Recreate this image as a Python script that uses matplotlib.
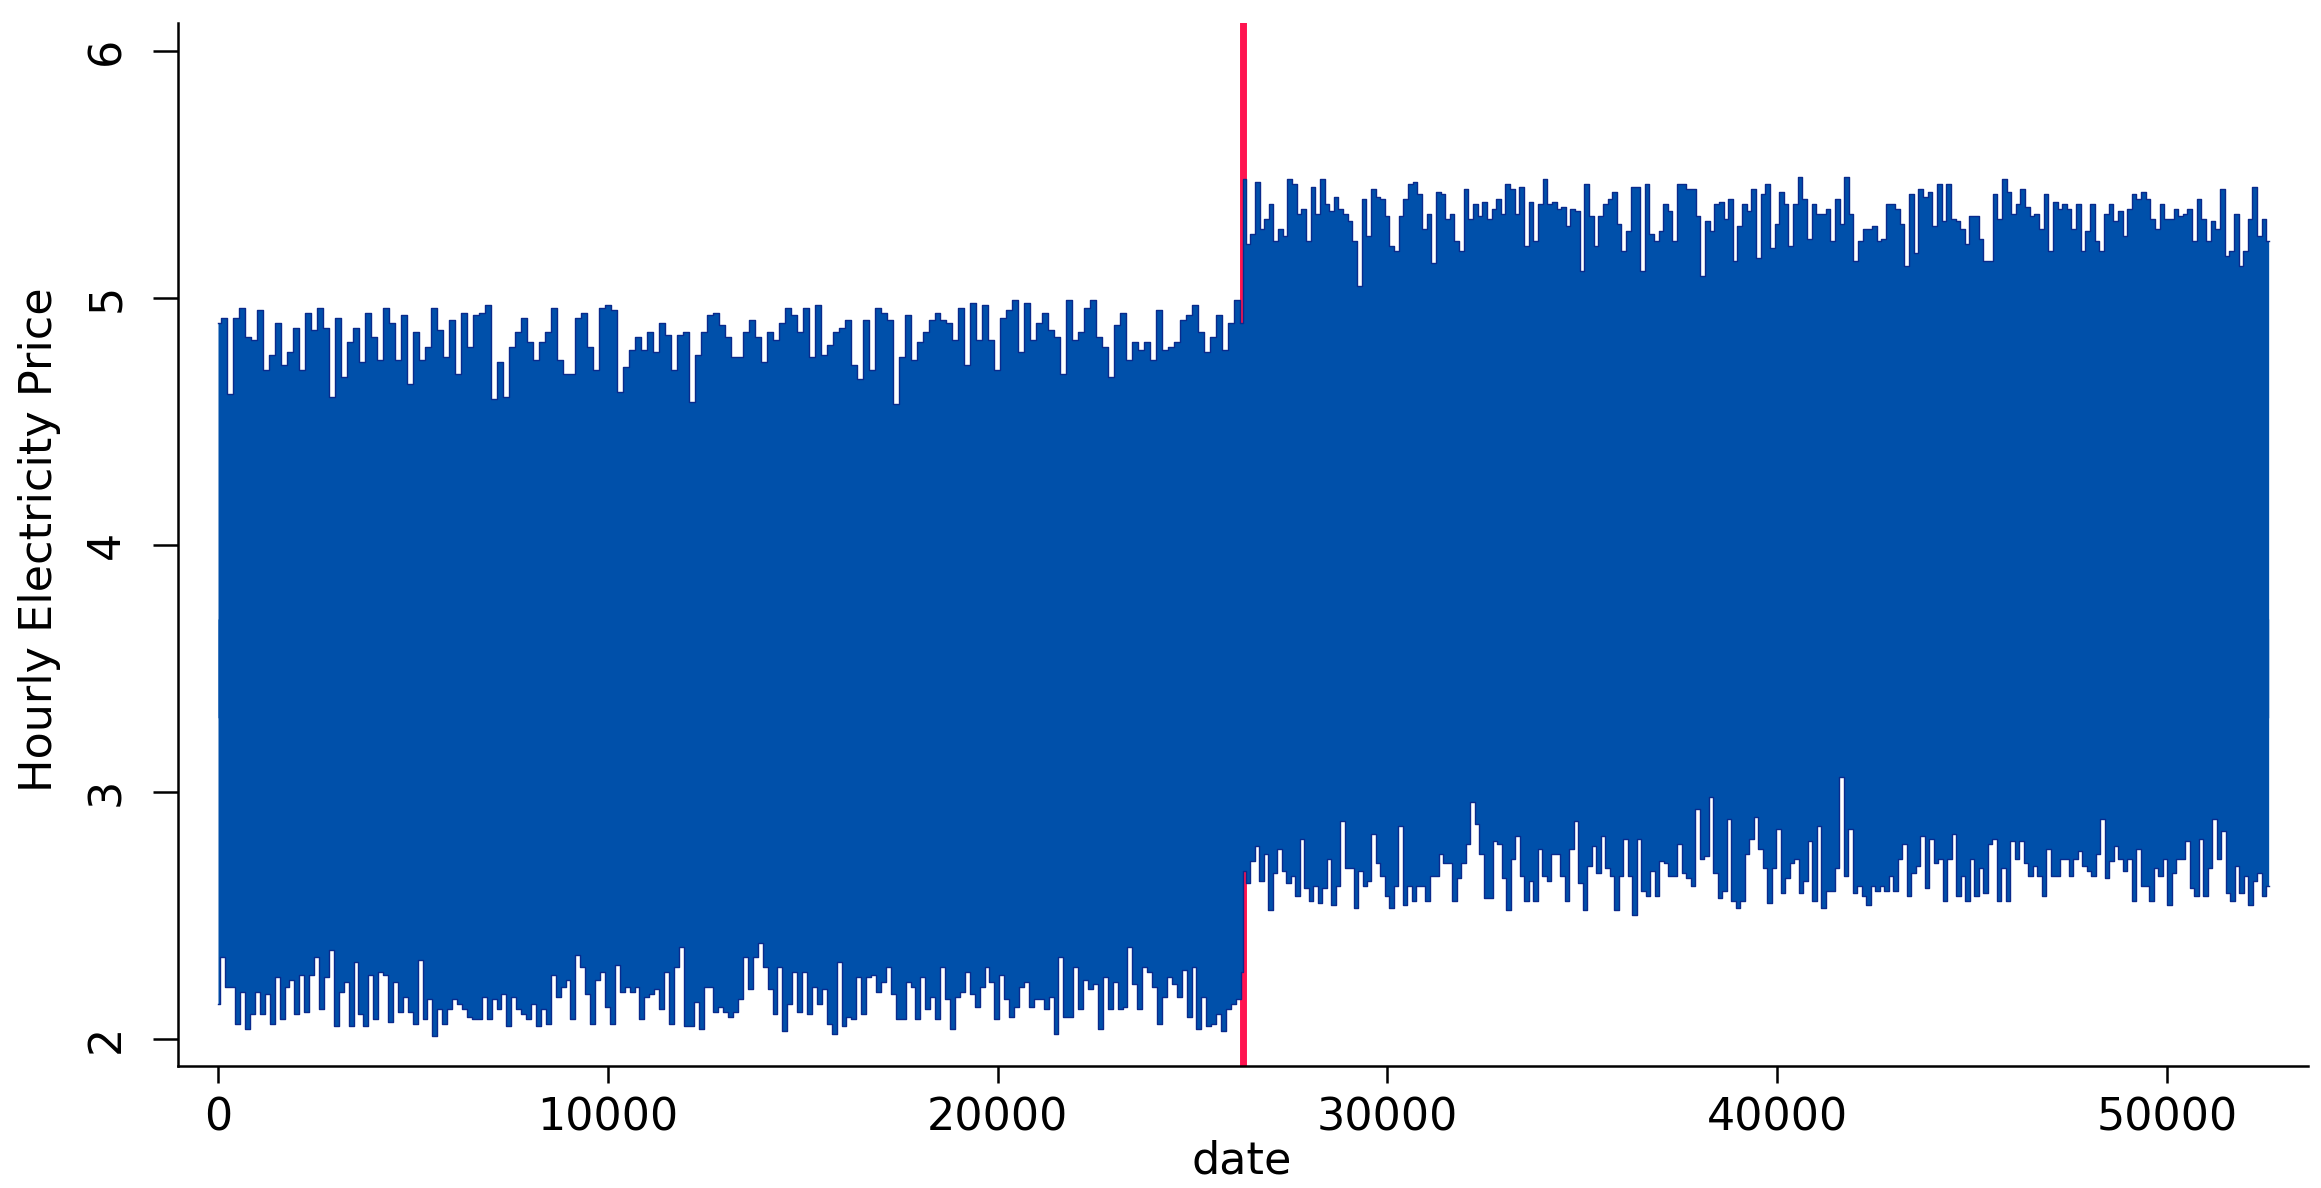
import numpy as np
import matplotlib
matplotlib.use("Agg")
import matplotlib.pyplot as plt

# ---------------- data ----------------
# Hourly series: 52608 observations, structural break at observation 26304.
break_date = 26304
first_start, first_end = 0, 26303
second_start, second_end = 26304, 52608

# upper envelope (local peaks) of the price, before the break
upper_before = [
    4.90, 4.92, 4.61, 4.92, 4.96, 4.84, 4.83, 4.95, 4.71, 4.77, 4.90, 4.73, 4.78, 4.88, 4.71, 4.94,
    4.87, 4.96, 4.88, 4.60, 4.92, 4.68, 4.82, 4.88, 4.74, 4.94, 4.84, 4.75, 4.96, 4.90, 4.75, 4.93,
    4.65, 4.86, 4.75, 4.80, 4.96, 4.87, 4.76, 4.91, 4.69, 4.94, 4.80, 4.93, 4.94, 4.97, 4.59, 4.74,
    4.60, 4.80, 4.86, 4.92, 4.82, 4.75, 4.82, 4.86, 4.96, 4.75, 4.69, 4.69, 4.92, 4.94, 4.80, 4.71,
    4.96, 4.97, 4.95, 4.62, 4.72, 4.79, 4.84, 4.79, 4.86, 4.78, 4.90, 4.85, 4.71, 4.85, 4.86, 4.58,
    4.77, 4.86, 4.93, 4.94, 4.89, 4.84, 4.76, 4.76, 4.86, 4.91, 4.84, 4.74, 4.86, 4.83, 4.90, 4.96,
    4.93, 4.86, 4.96, 4.76, 4.97, 4.77, 4.81, 4.86, 4.88, 4.91, 4.73, 4.67, 4.91, 4.71, 4.96, 4.94,
    4.91, 4.57, 4.76, 4.93, 4.75, 4.82, 4.86, 4.91, 4.94, 4.91, 4.90, 4.83, 4.96, 4.73, 4.98, 4.83,
    4.97, 4.83, 4.71, 4.92, 4.95, 4.99, 4.78, 4.98, 4.83, 4.90, 4.94, 4.87, 4.84, 4.69, 4.99, 4.83,
    4.86, 4.96, 4.99, 4.84, 4.80, 4.68, 4.89, 4.94, 4.75, 4.82, 4.79, 4.82, 4.75, 4.95, 4.79, 4.80,
    4.82, 4.91, 4.93, 4.97, 4.86, 4.78, 4.84, 4.93, 4.79, 4.90, 4.99, 4.90,
]

# lower envelope (local troughs), before the break
lower_before = [
    2.14, 2.33, 2.21, 2.21, 2.06, 2.19, 2.04, 2.10, 2.19, 2.10, 2.18, 2.06, 2.25, 2.08, 2.21, 2.24,
    2.10, 2.26, 2.11, 2.26, 2.33, 2.12, 2.25, 2.36, 2.05, 2.19, 2.23, 2.05, 2.31, 2.10, 2.05, 2.26,
    2.08, 2.27, 2.26, 2.07, 2.23, 2.11, 2.17, 2.11, 2.06, 2.32, 2.08, 2.16, 2.01, 2.12, 2.06, 2.12,
    2.16, 2.14, 2.12, 2.09, 2.08, 2.08, 2.17, 2.08, 2.16, 2.12, 2.18, 2.05, 2.17, 2.12, 2.10, 2.08,
    2.14, 2.05, 2.12, 2.06, 2.26, 2.17, 2.21, 2.24, 2.08, 2.34, 2.29, 2.18, 2.06, 2.24, 2.27, 2.13,
    2.06, 2.30, 2.19, 2.21, 2.19, 2.21, 2.08, 2.17, 2.18, 2.20, 2.12, 2.27, 2.06, 2.29, 2.37, 2.05,
    2.05, 2.15, 2.04, 2.21, 2.21, 2.11, 2.13, 2.11, 2.09, 2.11, 2.16, 2.33, 2.20, 2.33, 2.39, 2.29,
    2.20, 2.10, 2.29, 2.03, 2.14, 2.27, 2.11, 2.27, 2.10, 2.21, 2.14, 2.20, 2.06, 2.02, 2.31, 2.05,
    2.09, 2.08, 2.25, 2.10, 2.25, 2.26, 2.19, 2.23, 2.29, 2.18, 2.08, 2.08, 2.23, 2.21, 2.08, 2.25,
    2.12, 2.17, 2.08, 2.29, 2.16, 2.04, 2.17, 2.19, 2.27, 2.18, 2.13, 2.21, 2.29, 2.23, 2.08, 2.26,
    2.16, 2.09, 2.13, 2.21, 2.23, 2.13, 2.16, 2.16, 2.12, 2.17, 2.02, 2.33, 2.09, 2.09, 2.29, 2.12,
    2.24, 2.20, 2.22, 2.04, 2.25, 2.12, 2.23, 2.12, 2.13, 2.37, 2.22, 2.12, 2.29, 2.27, 2.21, 2.06,
    2.17, 2.25, 2.22, 2.17, 2.28, 2.09, 2.29, 2.04, 2.17, 2.05, 2.06, 2.10, 2.03, 2.12, 2.14, 2.16,
    2.27,
]

# upper envelope, after the break
upper_after = [
    5.48, 5.22, 5.26, 5.47, 5.28, 5.32, 5.38, 5.23, 5.28, 5.25, 5.48, 5.46, 5.34, 5.36, 5.23, 5.45,
    5.34, 5.48, 5.38, 5.35, 5.41, 5.36, 5.34, 5.31, 5.23, 5.05, 5.40, 5.25, 5.44, 5.41, 5.40, 5.33,
    5.21, 5.19, 5.33, 5.40, 5.46, 5.47, 5.42, 5.28, 5.34, 5.14, 5.43, 5.42, 5.32, 5.34, 5.23, 5.19,
    5.44, 5.32, 5.38, 5.33, 5.39, 5.32, 5.36, 5.40, 5.34, 5.46, 5.44, 5.34, 5.45, 5.21, 5.39, 5.23,
    5.38, 5.48, 5.38, 5.39, 5.36, 5.37, 5.29, 5.36, 5.35, 5.11, 5.46, 5.33, 5.21, 5.33, 5.38, 5.40,
    5.43, 5.30, 5.19, 5.27, 5.45, 5.45, 5.11, 5.46, 5.26, 5.23, 5.27, 5.38, 5.35, 5.23, 5.46, 5.46,
    5.44, 5.44, 5.33, 5.09, 5.31, 5.27, 5.38, 5.39, 5.32, 5.40, 5.15, 5.29, 5.38, 5.35, 5.44, 5.16,
    5.42, 5.46, 5.20, 5.30, 5.43, 5.38, 5.21, 5.38, 5.49, 5.40, 5.24, 5.38, 5.34, 5.34, 5.36, 5.23,
    5.40, 5.30, 5.49, 5.34, 5.15, 5.23, 5.28, 5.28, 5.29, 5.23, 5.24, 5.38, 5.38, 5.36, 5.30, 5.13,
    5.42, 5.18, 5.44, 5.41, 5.43, 5.29, 5.46, 5.31, 5.46, 5.32, 5.31, 5.28, 5.22, 5.33, 5.33, 5.24,
    5.15, 5.15, 5.42, 5.32, 5.48, 5.43, 5.34, 5.38, 5.44, 5.37, 5.33, 5.34, 5.28, 5.42, 5.19, 5.39,
    5.36, 5.38, 5.36, 5.28, 5.38, 5.19, 5.27, 5.38, 5.23, 5.19, 5.34, 5.38, 5.31, 5.35, 5.25, 5.36,
    5.42, 5.40, 5.43, 5.40, 5.32, 5.28, 5.38, 5.32, 5.32, 5.36, 5.33, 5.34, 5.36, 5.23, 5.40, 5.32,
    5.23, 5.31, 5.28, 5.44, 5.17, 5.19, 5.34, 5.13, 5.19, 5.32, 5.45, 5.25, 5.32, 5.23,
]

# lower envelope, after the break
lower_after = [
    2.68, 2.63, 2.72, 2.78, 2.64, 2.75, 2.52, 2.67, 2.77, 2.68, 2.63, 2.66, 2.58, 2.81, 2.61, 2.56,
    2.62, 2.55, 2.61, 2.73, 2.54, 2.62, 2.88, 2.69, 2.69, 2.53, 2.68, 2.62, 2.64, 2.83, 2.71, 2.66,
    2.58, 2.53, 2.62, 2.86, 2.54, 2.62, 2.56, 2.62, 2.62, 2.56, 2.66, 2.66, 2.75, 2.71, 2.71, 2.56,
    2.65, 2.71, 2.79, 2.96, 2.87, 2.75, 2.57, 2.57, 2.80, 2.79, 2.65, 2.52, 2.73, 2.82, 2.66, 2.56,
    2.64, 2.56, 2.77, 2.66, 2.64, 2.75, 2.75, 2.66, 2.56, 2.77, 2.88, 2.63, 2.52, 2.70, 2.78, 2.67,
    2.82, 2.69, 2.66, 2.52, 2.66, 2.81, 2.66, 2.50, 2.81, 2.60, 2.58, 2.68, 2.58, 2.72, 2.71, 2.66,
    2.66, 2.79, 2.67, 2.65, 2.62, 2.93, 2.73, 2.74, 2.98, 2.67, 2.57, 2.60, 2.89, 2.56, 2.53, 2.56,
    2.75, 2.81, 2.90, 2.77, 2.69, 2.55, 2.69, 2.85, 2.59, 2.65, 2.71, 2.73, 2.59, 2.64, 2.80, 2.56,
    2.86, 2.53, 2.60, 2.60, 2.69, 3.06, 2.66, 2.85, 2.59, 2.62, 2.58, 2.54, 2.62, 2.60, 2.62, 2.60,
    2.66, 2.60, 2.73, 2.79, 2.58, 2.67, 2.70, 2.82, 2.61, 2.81, 2.71, 2.73, 2.56, 2.73, 2.83, 2.58,
    2.66, 2.56, 2.73, 2.58, 2.69, 2.59, 2.79, 2.81, 2.56, 2.69, 2.56, 2.80, 2.73, 2.80, 2.71, 2.66,
    2.70, 2.66, 2.58, 2.77, 2.66, 2.66, 2.73, 2.73, 2.66, 2.73, 2.76, 2.70, 2.68, 2.66, 2.75, 2.89,
    2.65, 2.72, 2.78, 2.73, 2.68, 2.73, 2.56, 2.77, 2.62, 2.62, 2.56, 2.69, 2.66, 2.73, 2.54, 2.67,
    2.73, 2.73, 2.80, 2.61, 2.58, 2.81, 2.58, 2.69, 2.89, 2.73, 2.84, 2.59, 2.56, 2.70, 2.59, 2.66,
    2.54, 2.64, 2.67, 2.58, 2.62,
]

x_ticks = [0, 10000, 20000, 30000, 40000, 50000]
y_ticks = [2, 3, 4, 5, 6]
x_label = "date"
y_label = "Hourly Electricity Price"

# ---------------- styling ----------------
W, H, DPI = 2321, 1188, 100
BLUE = "#0050AA"
NAVY = "#0A2A8C"
RED = "#FF1450"

plt.rcParams["font.family"] = ["DejaVu Sans"]

fig = plt.figure(figsize=(W / DPI, H / DPI), dpi=DPI)
ax = fig.add_axes([178 / W, 1 - 1066 / H, (2308 - 178) / W, (1066 - 23) / H])

ax.axvline(break_date, color=RED, lw=5, zorder=1)

# join both regimes into one continuous envelope (no seam at the break)
x_up = np.concatenate([np.linspace(first_start, first_end, len(upper_before)),
                       np.linspace(second_start, second_end, len(upper_after))])
y_up = np.concatenate([upper_before, upper_after])
x_lo = np.concatenate([np.linspace(first_start, first_end, len(lower_before)),
                       np.linspace(second_start, second_end, len(lower_after))])
y_lo = np.concatenate([lower_before, lower_after])

ax.fill_between(x_up, y_up, 3.3, step="mid", color=BLUE, lw=0, zorder=2)
ax.fill_between(x_lo, 3.7, y_lo, step="mid", color=BLUE, lw=0, zorder=2)
ax.plot(x_up, y_up, drawstyle="steps-mid", color=NAVY, lw=1.0, zorder=3)
ax.plot(x_lo, y_lo, drawstyle="steps-mid", color=NAVY, lw=1.0, zorder=3)

ax.set_xlim(-1026, 53617)
ax.set_ylim(1.89, 6.113)

for s in ["top", "right"]:
    ax.spines[s].set_visible(False)
for s in ["left", "bottom"]:
    ax.spines[s].set_linewidth(1.8)
    ax.spines[s].set_color("black")

ax.set_xticks(x_ticks)
ax.set_xticklabels([str(v) for v in x_ticks])
ax.set_yticks(y_ticks)
ax.set_yticklabels([str(v) for v in y_ticks], rotation=90, va="center")
ax.tick_params(axis="x", length=12, width=1.8, pad=10, labelsize=32, colors="black")
ax.tick_params(axis="y", length=18, width=1.8, pad=18, labelsize=32, colors="black")

fig.text(1242 / W, 1 - 1173 / H, x_label, ha="center", va="baseline", fontsize=32)
fig.text(40 / W, 1 - 540 / H, y_label, ha="center", va="center", rotation=90, fontsize=32)

fig.savefig("out.png", dpi=DPI)
